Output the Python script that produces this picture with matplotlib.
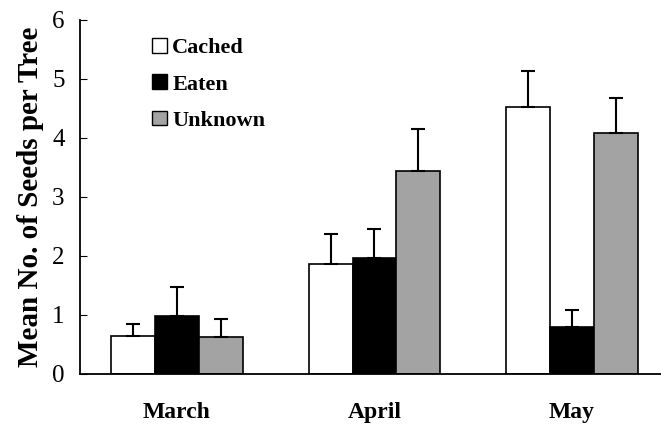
import numpy as np
import matplotlib.pyplot as plt
from matplotlib.patches import Patch

months = ['March', 'April', 'May']
series = ['Cached', 'Eaten', 'Unknown']
means = {'Cached': [0.64, 1.86, 4.53],
         'Eaten': [0.98, 1.97, 0.80],
         'Unknown': [0.62, 3.44, 4.08]}
errs = {'Cached': [0.21, 0.51, 0.61],
        'Eaten': [0.50, 0.49, 0.28],
        'Unknown': [0.31, 0.71, 0.59]}
colours = {'Cached': 'white', 'Eaten': 'black', 'Unknown': '#a3a3a3'}

plt.rcParams['font.family'] = ['Liberation Serif', 'DejaVu Serif']

fig = plt.figure(figsize=(6.61, 4.25), dpi=100)
ax = fig.add_axes([0.121, 0.12, 0.879, 0.833])

x = np.arange(len(months))
w = 0.222
for i, s in enumerate(series):
    ax.bar(x + (i - 1) * w, means[s], w, color=colours[s], edgecolor='black',
           linewidth=1.2,
           yerr=[np.zeros(len(months)), errs[s]],
           error_kw=dict(ecolor='black', elinewidth=1.5, capsize=5, capthick=1.5))

ax.set_xlim(-0.49, 2.45)
ax.set_ylim(0, 6)
ax.set_yticks(range(7))
ax.set_xticks(x)
ax.set_xticklabels(months, fontsize=17, fontweight='bold')
ax.tick_params(axis='x', length=0, pad=20)
ax.tick_params(axis='y', direction='in', length=5, labelsize=18, pad=11)
ax.spines['top'].set_visible(False)
ax.spines['right'].set_visible(False)
ax.spines['left'].set_linewidth(1.3)
ax.spines['bottom'].set_linewidth(1.3)
ax.set_ylabel('Mean No. of Seeds per Tree', fontsize=21, fontweight='bold', labelpad=6)

handles = [Patch(facecolor=colours[s], edgecolor='black', label=s) for s in series]
ax.legend(handles=handles, loc='upper left', bbox_to_anchor=(0.09, 1.005), frameon=False,
          prop={'weight': 'bold', 'size': 16}, handlelength=0.65, handleheight=0.65,
          handletextpad=0.25, labelspacing=0.72)

plt.savefig('out.png', dpi=100)
